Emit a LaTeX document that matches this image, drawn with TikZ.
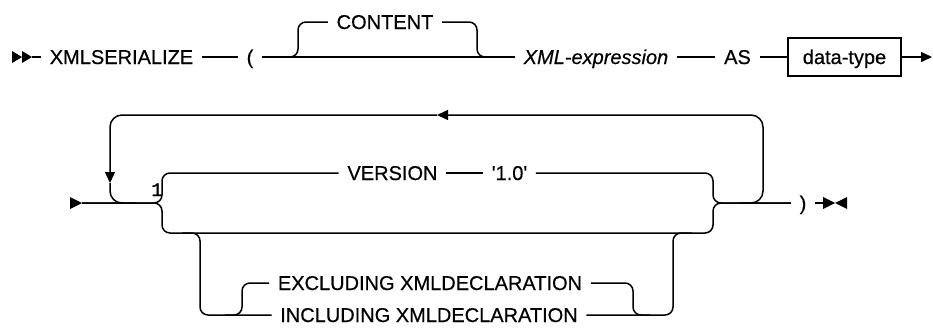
\documentclass[tikz,border=0pt]{standalone}
\usepackage{fontspec}
\setmainfont{Liberation Sans}
\newfontfamily\medfont{Liberation Sans}[FakeBold=0.5, ItalicFeatures={FakeBold=0.5}]
\newfontfamily\monofont{Liberation Mono}[FakeBold=1]
\usetikzlibrary{arrows.meta}
\begin{document}
\begin{tikzpicture}[x=1pt,y=-1pt, line width=1.5pt,
  kw/.style={inner xsep=8pt, inner ysep=0pt, text height=14pt, text depth=0pt, font=\medfont\fontsize{20}{24}\selectfont},
  kwit/.style={kw, font=\medfont\fontsize{20}{24}\selectfont\itshape},
  rr/.style={rounded corners=8pt},
  lr/.style={rounded corners=12pt},
  tip/.style={-{Triangle[length=11pt,width=10pt]}}]
\useasboundingbox (0,0) rectangle (933,327);

% ---------- row 1 ----------
\node[kw] (xs) at (121.5,57) {XMLSERIALIZE};
\node[kw] (lp) at (250,57) {(};
\node[kw] (ct) at (385,22) {CONTENT};
\node[kwit] (xe) at (596,57) {XML-expression};
\node[kw] (as) at (737.5,57) {AS};
\node[kw, draw, minimum width=113pt, minimum height=38pt, inner xsep=0pt] (dt) at (844.5,57) {data-type};

\coordinate (st1) at (32,57);
\coordinate (e1) at (932,57);
\coordinate (b1l) at (298,57);
\coordinate (b1r) at (477,57);

\fill (12,51) -- (22,57) -- (12,63) -- cycle;
\fill (22,51) -- (32,57) -- (22,63) -- cycle;
\draw (st1) -- (xs.west);
\draw (xs) -- (lp);
\draw (lp) -- (xe);
\draw[rr] (lp.east) -- (b1l) |- (ct.west);
\draw[rr] (ct.east) -| (b1r) -- (xe.west);
\draw (xe) -- (as);
\draw (as) -- (dt);
\draw[tip] (dt) -- (e1);

% ---------- row 2 ----------
\node[kw] (ver) at (392.5,173) {VERSION};
\node[kw] (v10) at (509.5,173) {\textquotesingle1.0\textquotesingle};
\node[kw] (rp) at (803,203) {)};
\node[kw] (exc) at (430,283) {EXCLUDING XMLDECLARATION};
\node[kw] (inc) at (429,315) {INCLUDING XMLDECLARATION};
\node[font=\monofont\fontsize{19}{19}\selectfont, inner sep=0pt, anchor=base] (one) at (157,196) {1};

\coordinate (st2) at (82,203);
\coordinate (jl) at (162,203);
\coordinate (jr) at (713,203);
\coordinate (lo1) at (162,233);
\coordinate (lo2) at (713,233);
\coordinate (em) at (823,203);

\fill (70,197) -- (82,203) -- (70,209) -- cycle;
\draw[rr] (st2) -- (jl) |- (ver.west);
\draw[rr] (st2) -- (jl) -- (lo1) -- (lo2) -- (jr) -- (rp.west);
\draw (ver) -- (v10);
\draw[rr] (v10.east) -| (jr) -- (rp.west);
\draw (rp) -- (em);
\fill (823,197) -- (835,203) -- (823,209) -- cycle;
\fill (847,197) -- (835,203) -- (847,209) -- cycle;

% repeat loop
\coordinate (la) at (740,203);
\coordinate (lb) at (763,203);
\coordinate (lc) at (763,115);
\coordinate (ld) at (437,115);
\coordinate (le) at (110,115);
\coordinate (lf) at (110,183);
\coordinate (lg) at (110,203);
\coordinate (lh) at (135,203);
\draw[lr, tip] (la) -- (lb) -- (lc) -- (ld);
\draw[lr, tip] (ld) -- (le) -- (lf);
\draw[lr] (lf) -- (lg) -- (lh);

% optional EXCLUDING / INCLUDING
\coordinate (sbs) at (182,233);
\coordinate (sb1) at (200,233);
\coordinate (ibs) at (225,315);
\coordinate (ib) at (242,315);
\coordinate (ir) at (633,315);
\coordinate (ire) at (650,315);
\coordinate (or) at (673,233);
\coordinate (ore) at (692,233);
\draw[rr] (sbs) -- (sb1) |- (inc.west);
\draw[rr] (ibs) -- (ib) |- (exc.west);
\draw[rr] (exc.east) -| (ir) -- (ire);
\draw[rr] (inc.east) -| (or) -- (ore);
\end{tikzpicture}
\end{document}
